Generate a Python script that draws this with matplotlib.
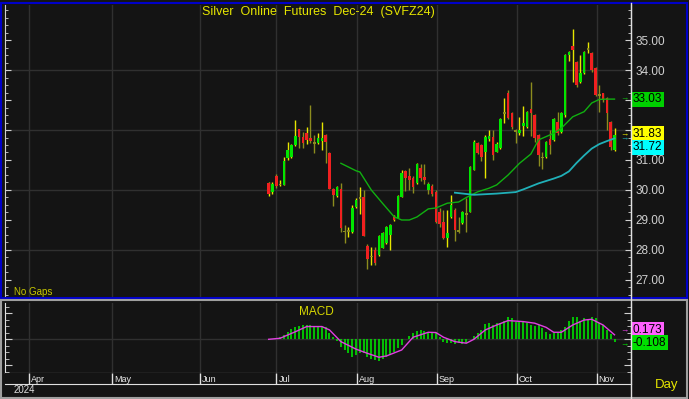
import matplotlib
matplotlib.use("Agg")
import matplotlib.pyplot as plt
from matplotlib.ticker import MultipleLocator, FixedLocator, NullFormatter
from matplotlib.lines import Line2D
from matplotlib.patches import Rectangle
import matplotlib.transforms as mtransforms

plt.rcParams['font.family'] = ['Liberation Sans', 'DejaVu Sans']

# daily bars, late Jun .. early Nov 2024 (bar index = trading day, "No Gaps")
opens = [30.23, 29.93, 30.47, 30.17, 30.17, 31.06, 31.09, 31.50, 32.03, 31.77,
         31.90, 31.75, 31.55, 31.56, 31.62, 31.83, 31.24, 30.03, 29.80, 30.03,
         28.62, 28.60, 28.60, 29.43, 29.75, 29.78, 28.13, 27.80, 28.00, 27.83,
         28.07, 28.23, 28.50, 29.10, 29.07, 29.77, 30.64, 30.47, 30.40, 30.23,
         30.73, 30.43, 30.00, 30.13, 29.94, 29.25, 28.94, 28.40, 29.10, 29.33,
         28.65, 28.90, 29.22, 29.28, 30.67, 31.57, 31.50, 31.28, 31.70, 31.78,
         31.28, 31.40, 32.60, 33.23, 32.57, 32.00, 31.90, 32.15, 32.11, 32.70,
         32.50, 31.83, 31.10, 31.11, 31.70, 31.67, 32.28, 31.94, 32.50, 34.50,
         34.80, 34.28, 33.61, 33.90, 34.68, 34.57, 34.07, 33.20, 33.23, 33.07,
         32.28, 31.33]
highs = [30.25, 30.25, 30.53, 30.33, 31.10, 31.60, 31.52, 32.33, 32.05, 31.95,
         32.10, 32.83, 31.83, 31.90, 32.27, 31.88, 31.27, 30.05, 30.12, 30.23,
         28.83, 28.75, 29.50, 29.72, 30.10, 30.00, 28.20, 28.10, 28.10, 28.50,
         28.60, 28.80, 28.85, 29.15, 29.82, 30.67, 30.67, 30.72, 30.45, 30.90,
         30.87, 30.87, 30.27, 30.20, 30.00, 29.40, 29.33, 29.33, 29.83, 29.40,
         29.11, 29.30, 29.72, 30.80, 31.68, 31.60, 31.55, 31.85, 32.00, 32.00,
         31.60, 32.40, 33.06, 33.33, 32.60, 32.05, 32.44, 32.80, 32.65, 33.60,
         32.55, 31.88, 31.25, 31.65, 32.00, 32.40, 32.60, 32.60, 34.55, 34.65,
         35.37, 34.30, 34.50, 34.65, 34.95, 34.60, 34.10, 33.50, 33.25, 33.10,
         32.30, 32.07]
lows = [29.80, 29.86, 30.07, 30.13, 30.15, 31.00, 31.07, 31.48, 31.40, 31.40,
        31.55, 31.57, 31.23, 31.52, 31.33, 30.90, 30.02, 29.47, 29.78, 28.60,
        28.23, 28.43, 28.55, 29.40, 29.20, 28.45, 27.37, 27.50, 27.50, 27.80,
        28.05, 28.20, 28.00, 28.95, 29.05, 29.75, 29.95, 30.00, 29.90, 30.20,
        30.30, 30.20, 29.87, 29.80, 28.90, 28.75, 28.35, 28.10, 29.05, 28.30,
        28.56, 28.85, 28.61, 29.25, 30.65, 31.20, 30.95, 30.40, 31.65, 31.00,
        31.25, 31.38, 32.22, 32.38, 32.05, 31.56, 31.85, 31.80, 32.08, 31.80,
        31.60, 30.80, 30.70, 31.08, 31.20, 31.65, 31.85, 31.90, 32.45, 34.30,
        33.60, 33.45, 33.58, 33.88, 34.57, 33.95, 33.15, 32.61, 32.95, 32.00,
        31.33, 31.30]
closes = [29.85, 30.20, 30.13, 30.21, 30.98, 31.33, 31.50, 31.80, 31.77, 31.57,
          31.67, 31.63, 31.58, 31.72, 31.72, 31.60, 30.03, 29.83, 30.10, 28.73,
          28.60, 28.65, 29.40, 29.67, 29.70, 28.47, 27.70, 27.75, 27.58, 28.47,
          28.58, 28.77, 28.83, 29.00, 29.80, 30.57, 30.40, 30.33, 30.10, 30.87,
          30.40, 30.33, 30.20, 29.87, 28.94, 28.85, 28.40, 28.57, 29.50, 28.67,
          28.60, 29.27, 29.18, 30.78, 31.61, 31.23, 31.10, 31.78, 31.80, 31.15,
          31.53, 32.37, 32.55, 32.40, 32.10, 31.95, 32.00, 32.22, 32.61, 32.57,
          31.73, 31.17, 31.05, 31.61, 31.50, 32.37, 31.90, 32.57, 34.50, 34.60,
          34.67, 33.50, 33.90, 34.61, 34.72, 34.00, 33.17, 33.15, 33.00, 32.57,
          31.44, 31.83]

# moving averages (bar index, value)
ma_fast_idx = [19, 23, 24, 27, 28, 30, 33, 35, 37, 39, 42, 44, 47, 50, 52, 55,
               58, 60, 63, 66, 69, 71, 75, 77, 80, 83, 85, 87, 89, 91]
ma_fast_val = [30.89, 30.64, 30.60, 30.00, 29.85, 29.55, 29.11, 29.00, 29.00,
               29.10, 29.37, 29.40, 29.56, 29.60, 29.75, 29.94, 30.06, 30.17,
               30.50, 30.89, 31.20, 31.67, 31.89, 32.06, 32.44, 32.61, 32.90,
               33.02, 33.03, 33.03]
ma_slow_idx = [49, 54, 60, 65, 67, 69, 71, 73, 75, 77, 79, 81, 83, 85, 87, 89, 91]
ma_slow_val = [29.91, 29.84, 29.88, 29.93, 30.02, 30.12, 30.22, 30.30, 30.38,
               30.47, 30.62, 30.90, 31.15, 31.38, 31.53, 31.63, 31.72]

# MACD histogram (one per bar) and signal line
macd_hist = [0.00, 0.02, 0.06, 0.08, 0.17, 0.29, 0.38, 0.49, 0.51, 0.55,
             0.55, 0.55, 0.51, 0.49, 0.46, 0.49, 0.23, 0.08, -0.05, -0.28,
             -0.41, -0.54, -0.67, -0.60, -0.54, -0.54, -0.67, -0.77, -0.79, -0.82,
             -0.77, -0.69, -0.60, -0.47, -0.35, -0.22, 0.03, 0.13, 0.23, 0.33,
             0.36, 0.33, 0.29, 0.26, 0.23, 0.08, -0.09, -0.15, -0.13, -0.18,
             -0.15, -0.18, -0.13, 0.02, 0.13, 0.23, 0.36, 0.59, 0.64, 0.55,
             0.62, 0.64, 0.72, 0.85, 0.81, 0.68, 0.72, 0.68, 0.62, 0.55,
             0.51, 0.55, 0.42, 0.29, 0.21, 0.23, 0.29, 0.36, 0.49, 0.72,
             0.87, 0.85, 0.72, 0.81, 0.77, 0.87, 0.81, 0.62, 0.55, 0.36,
             0.21, -0.108]
signal_idx = [0, 3, 7, 10, 14, 16, 19, 23, 26, 29, 31, 35, 38, 42, 44, 46, 49,
              52, 54, 57, 60, 63, 67, 70, 73, 75, 77, 80, 83, 85, 88, 91]
signal_val = [0.00, 0.04, 0.29, 0.49, 0.49, 0.36, -0.09, -0.38, -0.54, -0.69,
              -0.64, -0.41, 0.08, 0.27, 0.26, 0.08, -0.09, -0.15, 0.00, 0.36,
              0.55, 0.72, 0.68, 0.62, 0.46, 0.27, 0.27, 0.55, 0.74, 0.77,
              0.55, 0.173]

months = ['Apr', 'May', 'Jun', 'Jul', 'Aug', 'Sep', 'Oct', 'Nov']
month_bar = [-63.1, -41.2, -18.1, 2.05, 23.2, 44.2, 65.3, 86.3]
price_ticks = [27, 28, 29, 30, 31, 32, 33, 34, 35]

BG = '#141414'
GRID = '#303030'
W, H = 689, 399


def rect(x0, y0, x1, y1):
    # pixel box -> figure fraction
    return [x0 / W, 1 - y1 / H, (x1 - x0) / W, (y1 - y0) / H]


fig = plt.figure(figsize=(W / 100, H / 100), dpi=100, facecolor=BG)

xlim = ((5 - 268.7) / 3.8, (631 - 268.7) / 3.8)

# ---- price panel
ax = fig.add_axes(rect(5, 5, 631, 297), facecolor=BG)
ax.set_xlim(*xlim)
ax.set_ylim(26.433, 36.167)
for y in [28, 30, 32, 34]:
    ax.axhline(y, color=GRID, lw=1, zorder=0)
for m in month_bar:
    ax.axvline(m, color=GRID, lw=1, zorder=0)

n = len(closes)
for i in range(n):
    o, h, l, c = opens[i], highs[i], lows[i], closes[i]
    up_day = i == 0 or c >= closes[i - 1]
    wick = '#e6e600' if up_day else '#8c8c1e'
    ax.vlines(i, l, h, color=wick, lw=1, zorder=2)
    if abs(c - o) < 0.06:
        body_col = '#8c8c1e'
    elif c > o:
        body_col = '#00e600'
    else:
        body_col = '#f02020'
    bot = min(o, c)
    ht = max(abs(c - o), 0.04)
    ax.bar(i, ht, bottom=bot, width=0.72, color=body_col, lw=0, zorder=3)

ax.plot(ma_fast_idx, ma_fast_val, color='#10b010', lw=1, zorder=4)
ax.plot(ma_slow_idx, ma_slow_val, color='#20b0b8', lw=1.3, zorder=4)

ax.yaxis.tick_right()
ax.yaxis.set_major_locator(FixedLocator(price_ticks))
ax.yaxis.set_minor_locator(MultipleLocator(0.25))
ax.yaxis.set_major_formatter(plt.FuncFormatter(lambda v, p: f'{v:.2f}'))
ax.tick_params(axis='y', which='both', direction='in', colors='#d0d0d0',
               left=True, right=True, labelsize=8.5, pad=3)
ax.tick_params(axis='y', which='major', length=4)
ax.tick_params(axis='y', which='minor', length=2)
ax.tick_params(axis='x', bottom=False, labelbottom=False)
for s in ['top', 'bottom']:
    ax.spines[s].set_visible(False)
ax.spines['left'].set_color('#d0d0d0')
ax.spines['right'].set_color('#e0e0e0')

tr = mtransforms.blended_transform_factory(ax.transAxes, ax.transData)
last = n - 1
price_tags = [(ma_fast_val[-1], ma_fast_val[-1], '#00d000', '#10b010'),
              (closes[-1], closes[-1] + 0.05, '#ffff00', '#e6e600'),
              (ma_slow_val[-1], ma_slow_val[-1] - 0.3, '#00ffff', '#20b0b8')]
for val, ypos, fc, ac in price_tags:
    ax.text(1.003, ypos, f'{val:.2f}', transform=tr, ha='left', va='center',
            fontsize=8.5, color='black', zorder=10, clip_on=False,
            bbox=dict(boxstyle='square,pad=0.12', fc=fc, ec='none'))
    ax.text(last + 1.6, val, '→', color=ac, fontsize=6, ha='left',
            va='center', zorder=5)

# ---- MACD panel
am = fig.add_axes(rect(5, 303, 631, 373), facecolor=BG)
am.set_xlim(*xlim)
am.set_ylim(-1.296, 1.396)
for m in month_bar:
    am.axvline(m, color=GRID, lw=1, zorder=0)
am.axhline(0, color=GRID, lw=1, zorder=0)
am.vlines(range(n), 0, macd_hist, color='#00e000', lw=1.2, zorder=2)
am.plot(signal_idx, signal_val, color='#e040e0', lw=1, zorder=3)
am.text(12.5, 1.05, 'MACD', color='#d8d800', fontsize=8.5, ha='center',
        va='center')
am.yaxis.tick_right()
am.yaxis.set_major_locator(MultipleLocator(1))
am.yaxis.set_minor_locator(MultipleLocator(0.25))
am.yaxis.set_major_formatter(NullFormatter())
am.tick_params(axis='y', which='both', direction='in', colors='#d0d0d0',
               left=True, right=True)
am.tick_params(axis='y', which='major', length=5)
am.tick_params(axis='y', which='minor', length=3)
am.tick_params(axis='x', bottom=False, labelbottom=False)
am.spines['top'].set_visible(False)
for s in ['left', 'right', 'bottom']:
    am.spines[s].set_color('#e0e0e0')

trm = mtransforms.blended_transform_factory(am.transAxes, am.transData)
macd_tags = [(signal_val[-1], 0.37, '#ff60ff', '#e040e0'),
             (macd_hist[-1], -0.13, '#00e000', '#00e000')]
for val, ypos, fc, ac in macd_tags:
    am.text(1.003, ypos, f'{val:.3f}', transform=trm, ha='left', va='center',
            fontsize=8.5, color='black', zorder=10, clip_on=False,
            bbox=dict(boxstyle='square,pad=0.12', fc=fc, ec='none'))
    am.text(last + 1.6, val + (0.15 if val > 0 else -0.1), '→', color=ac,
            fontsize=6, ha='left', va='center')

# ---- date band
ad = fig.add_axes(rect(5, 373, 631, 384), facecolor=BG)
ad.set_xlim(*xlim)
ad.set_ylim(0, 1)
ad.vlines(month_bar, 0, 1, color='#e0e0e0', lw=1)
for lab, m in zip(months, month_bar):
    ad.text(m + 0.5, 0.4, lab, color='#e8e8e8', fontsize=6.5, ha='left',
            va='center')
ad.set_xticks([])
ad.set_yticks([])
ad.spines['top'].set_visible(False)
ad.spines['left'].set_visible(False)
ad.spines['right'].set_color('#e0e0e0')
ad.spines['bottom'].set_color('#e0e0e0')

# ---- frame and loose labels
fig.add_artist(Line2D([631 / W, 631 / W], [0, 1 - 3 / H], color='#e0e0e0',
                      lw=1, transform=fig.transFigure))
fig.add_artist(Rectangle((1 / W, 1 - 298 / H), 686 / W, 295 / H,
                         transform=fig.transFigure, fill=False,
                         ec='#0000c8', lw=1.5))
fig.add_artist(Rectangle((1 / W, 1 / H), 686 / W, 98 / H,
                         transform=fig.transFigure, fill=False,
                         ec='#a0a0a0', lw=1.5))
fig.text(318 / W, 1 - 12 / H, 'Silver  Online  Futures  Dec-24  (SVFZ24)',
         color='#e6e600', fontsize=9, ha='center', va='center')
fig.text(14 / W, 1 - 292 / H, 'No Gaps', color='#c8c800', fontsize=7,
         ha='left', va='center')
fig.text(14 / W, 1 - 390 / H, '2024', color='#e0e0e0', fontsize=7,
         ha='left', va='center')
fig.text(667 / W, 1 - 385 / H, 'Day', color='#e6e600', fontsize=9.5,
         ha='center', va='center')

fig.savefig('out.png', dpi=100, facecolor=BG)
